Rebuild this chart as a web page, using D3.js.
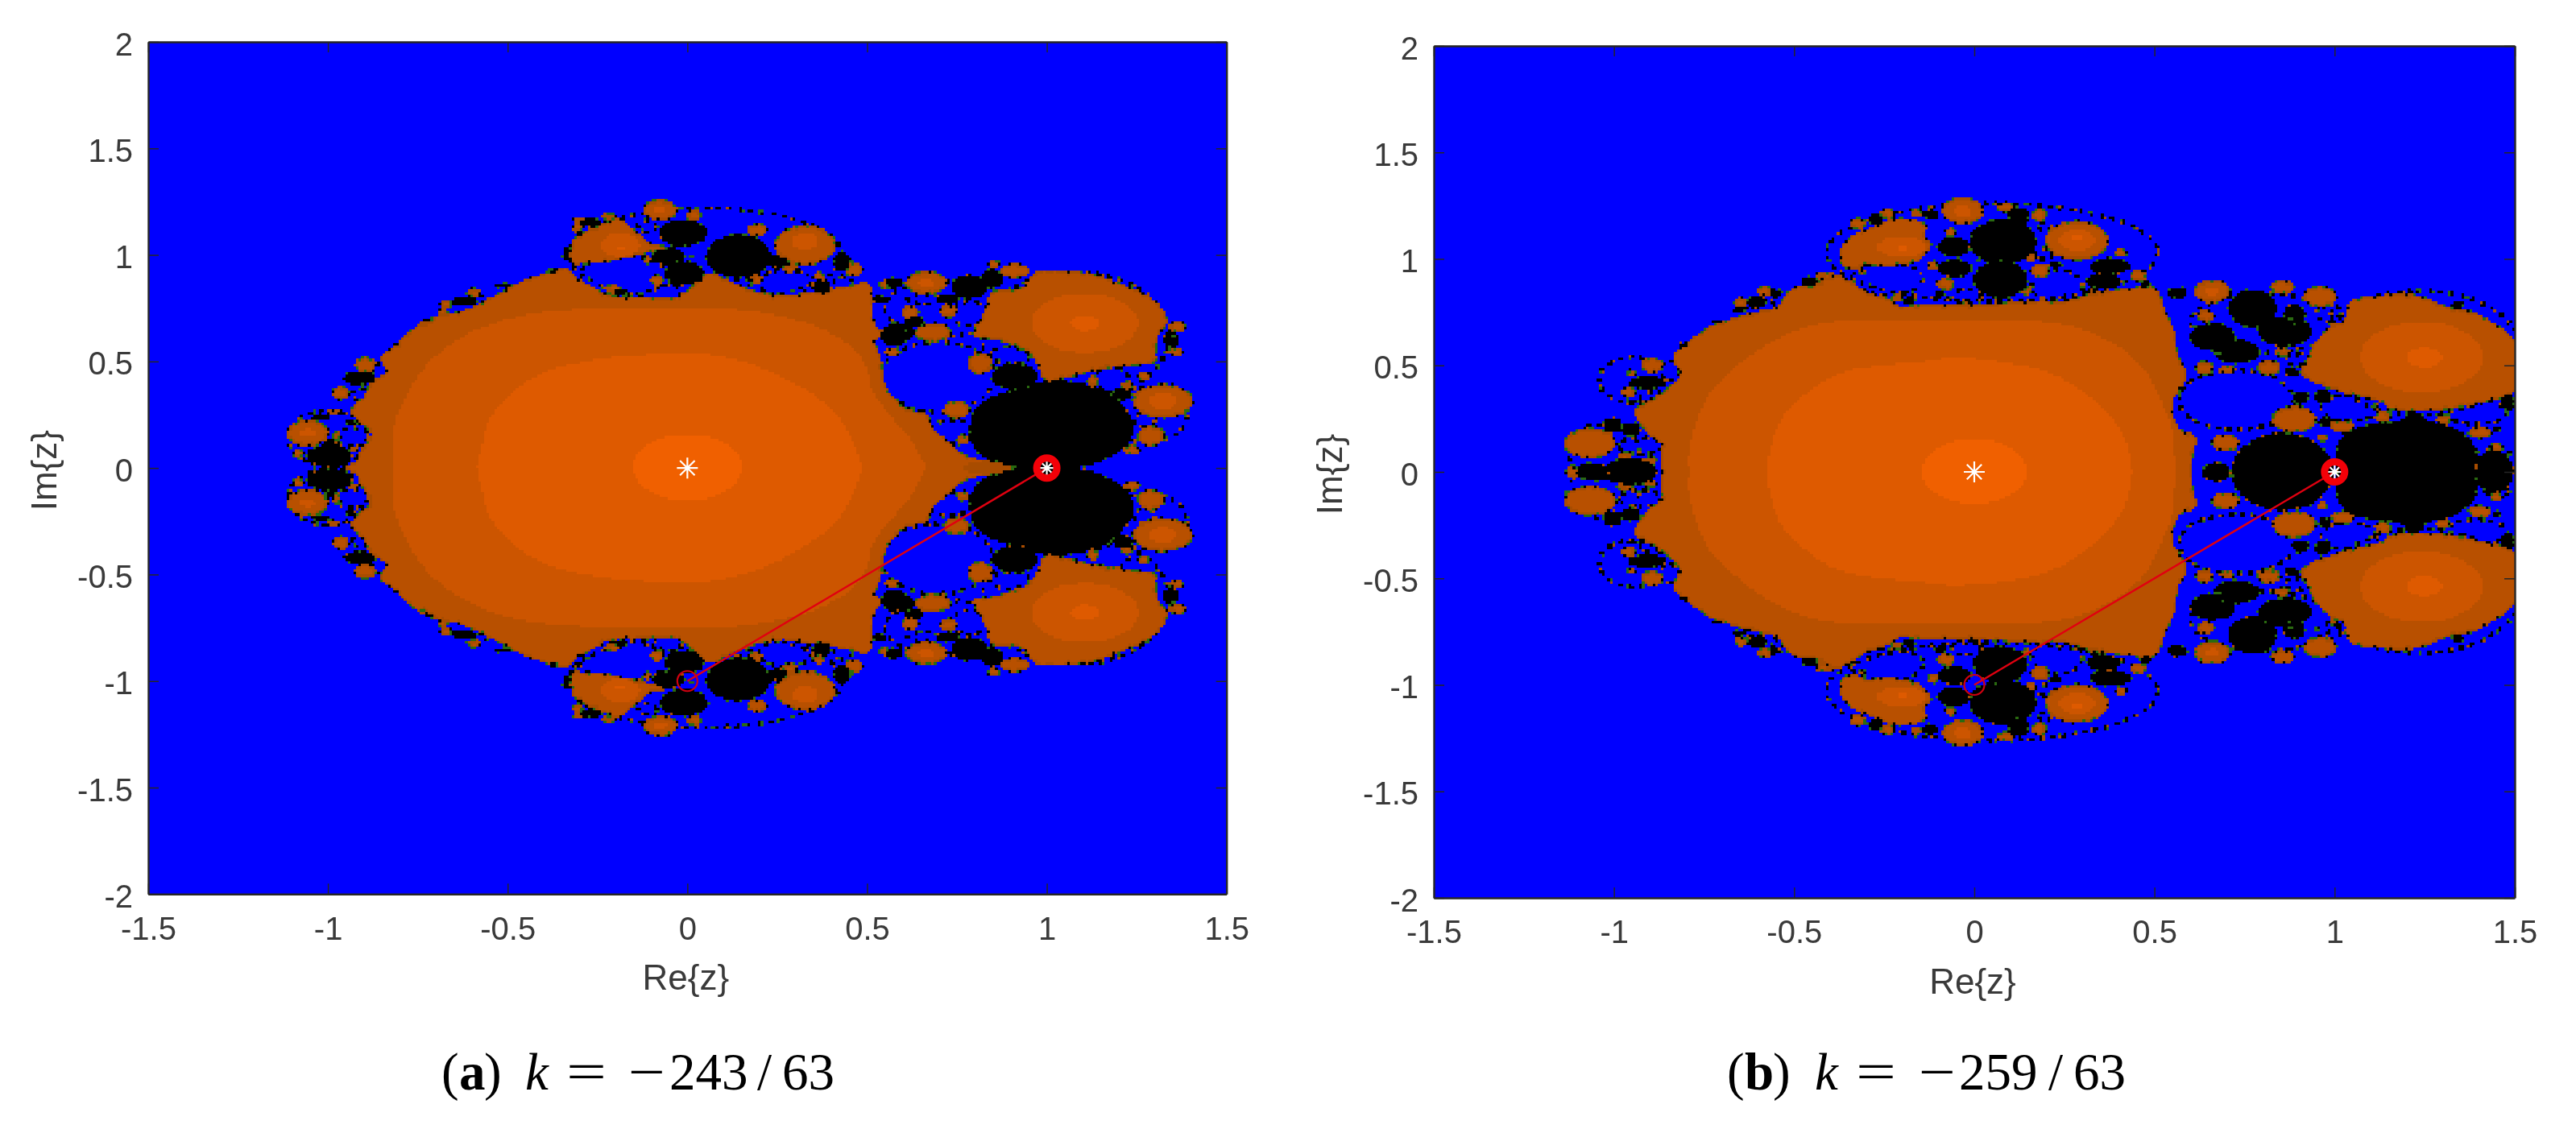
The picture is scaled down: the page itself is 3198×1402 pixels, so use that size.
<!DOCTYPE html>
<html>
<head>
<meta charset="utf-8">
<script src="https://cdnjs.cloudflare.com/ajax/libs/d3/7.8.5/d3.min.js"></script>
<style>
    html, body { margin: 0; padding: 0; background: #fff; }
    #page { position: relative; width: 3198px; height: 1402px; overflow: hidden; }
    canvas { position: absolute; image-rendering: pixelated; }
    svg { position: absolute; left: 0; top: 0; }
    .axis text { font-family: "Liberation Sans", Arial, sans-serif; font-size: 40px; fill: #3a3a3a; }
    .axis path, .axis line { stroke: #262626; }
    .axis path { stroke-width: 2.4; }
    .axis line { stroke-width: 1.5; }
    .axis-label { font-family: "Liberation Sans", Arial, sans-serif; font-size: 44px; fill: #3a3a3a; text-anchor: middle; }
    .caption { font-family: "Liberation Serif", serif; font-size: 65px; fill: #000; }
</style>
</head>
<body>
<div id="page"></div>
<script>
// Axis values
const xTicks = [-1.5, -1, -0.5, 0, 0.5, 1, 1.5];
const yTicks = [-2, -1.5, -1, -0.5, 0, 0.5, 1, 1.5, 2];

// Markers, same on both panels
const stars = [[0, 0], [1, 0]];
const pathLine = [[0, -1], [1, 0]];

// Panel (a): all shapes are the upper half in z coordinates.
// Outlines are [re, im], ellipses are [re, im, rRe, rIm]. The lower half is the mirror image.
const bodyA = [[-0.956,0],[-0.917,0.031],[-0.904,0.087],[-0.878,0.131],[-0.876,0.157],[-0.896,0.201],[-0.934,0.27],[-0.896,0.333],[-0.883,0.396],[-0.837,0.447],[-0.852,0.522],[-0.822,0.56],[-0.777,0.629],[-0.743,0.673],[-0.687,0.711],[-0.628,0.73],[-0.553,0.787],[-0.471,0.862],[-0.403,0.906],[-0.336,0.932],[-0.299,0.875],[-0.254,0.837],[-0.224,0.805],[-0.082,0.793],[-0.045,0.787],[0,0.825],[0.06,0.913],[0.12,0.868],[0.187,0.824],[0.269,0.799],[0.336,0.818],[0.418,0.837],[0.504,0.862],[0.512,0.787],[0.516,0.686],[0.537,0.623],[0.52,0.598],[0.538,0.497],[0.545,0.396],[0.568,0.333],[0.59,0.29],[0.628,0.264],[0.669,0.245],[0.68,0.182],[0.717,0.132],[0.755,0.069],[0.807,0.037],[0.911,0.008],[0.911,0]];
const level2A = [[-0.818,0],[-0.818,0.182],[-0.784,0.333],[-0.732,0.472],[-0.665,0.573],[-0.568,0.661],[-0.441,0.723],[-0.254,0.749],[-0.075,0.749],[0.112,0.749],[0.299,0.698],[0.411,0.623],[0.47,0.547],[0.5,0.459],[0.515,0.358],[0.553,0.27],[0.627,0.119],[0.665,0]];
const level3A = [[-0.586,0],[-0.575,0.08],[-0.553,0.22],[-0.493,0.346],[-0.403,0.447],[-0.254,0.51],[-0.15,0.528],[0,0.541],[0.149,0.503],[0.299,0.396],[0.411,0.257],[0.463,0.119],[0.486,0]];
const coreA = [[0, 0, 0.151, 0.154]];
const tipA = [[0.76,0],[0.8,0.028],[0.86,0.02],[0.911,0.008],[0.911,0]];
const bigLobesA = [
    [[0.796,0.623],[0.818,0.692],[0.835,0.761],[0.848,0.824],[0.926,0.837],[0.956,0.887],[0.967,0.915],[1.076,0.915],[1.136,0.9],[1.21,0.856],[1.262,0.818],[1.315,0.755],[1.333,0.686],[1.307,0.623],[1.3,0.535],[1.3,0.503],[1.225,0.484],[1.143,0.465],[1.068,0.434],[0.994,0.415],[0.979,0.472],[0.953,0.547],[0.911,0.579],[0.852,0.61]],
    [[-0.317,1.064],[-0.299,1.09],[-0.254,1.127],[-0.187,1.162],[-0.138,1.095],[-0.097,1.045],[-0.06,1.036],[-0.131,1.007],[-0.164,0.994],[-0.232,0.969],[-0.299,0.963],[-0.317,0.957]]
];
const blackOutlineA = [[0.919,0],[0.852,0.031],[0.807,0.069],[0.784,0.169],[0.799,0.27],[0.852,0.339],[0.904,0.365],[0.956,0.396],[1.016,0.409],[1.091,0.396],[1.15,0.371],[1.203,0.302],[1.236,0.232],[1.236,0.144],[1.21,0.087],[1.15,0.031],[1.076,0]];
const blobsA = [[0.665,0.869,0.056,0.05],[0.911,0.925,0.041,0.028],[0.852,0.957,0.015,0.018],[0.62,0.73,0.022,0.028],[0.726,0.736,0.022,0.025],[0.683,0.636,0.049,0.038],[0.568,0.541,0.019,0.016],[0.814,0.491,0.031,0.044],[0.749,0.273,0.034,0.035],[1.322,0.314,0.082,0.076],[1.289,0.15,0.036,0.04],[1.236,0.084,0.021,0.019],[1.363,0.661,0.022,0.019],[1.359,0.547,0.019,0.015],[0.766,0.132,0.016,0.019],[1.27,0.434,0.015,0.015],[1.221,0.386,0.015,0.013],[1.128,0.409,0.015,0.019],
    [-0.075,1.211,0.046,0.044],[0.019,1.186,0.021,0.019],[-0.22,1.181,0.019,0.01],[0.194,1.117,0.026,0.025],[0.327,1.045,0.083,0.088],[0.462,0.932,0.024,0.028],[-0.209,0.84,0.021,0.015],[-0.086,0.881,0.016,0.023],[0.194,0.887,0.015,0.019],[0.285,0.938,0.019,0.015],[0.366,0.9,0.016,0.015],[-0.112,0.976,0.01,0.015],[0.549,0.862,0.015,0.015],
    [-1.057,0.163,0.056,0.057],[-1.083,0.068,0.013,0.018],[-0.975,0.15,0.009,0.015],[-0.93,0.087,0.013,0.01],[-0.986,0.26,0.019,0.01],[-0.896,0.484,0.028,0.031],[-0.964,0.352,0.021,0.028],[-0.672,0.768,0.015,0.015],[-0.594,0.824,0.019,0.015],[-0.68,0.73,0.011,0.013],[-0.303,1.165,0.015,0.01],[-0.306,1.127,0.013,0.015],[-0.735,0.678,0.01,0.01]];
const midA = [[1.105,0.68,0.149,0.139],[-0.187,1.045,0.055,0.057],[0.327,1.064,0.037,0.038],[1.322,0.314,0.04,0.036],[-1.057,0.163,0.022,0.02],[0.665,0.869,0.022,0.02],[-0.075,1.211,0.018,0.018]];
const innerA = [[1.105,0.68,0.04,0.038],[-0.187,1.033,0.015,0.012]];
const blackA = [[0.91,0.428,0.064,0.063],[1.21,0.346,0.026,0.03],[0.785,0.85,0.049,0.057],[0.848,0.887,0.03,0.044],[0.725,0.793,0.03,0.022],[0.59,0.636,0.045,0.044],[0.631,0.686,0.026,0.025],[1.345,0.604,0.022,0.038],[0.575,0.869,0.022,0.025],
    [-0.011,1.102,0.067,0.063],[-0.052,0.994,0.045,0.04],[-0.008,0.913,0.056,0.057],[0.142,0.994,0.09,0.103],[0.25,0.969,0.028,0.028],[0.43,0.969,0.024,0.044],[0.373,0.85,0.026,0.035],[-0.187,0.824,0.022,0.013],[-0.269,1.152,0.03,0.019],[0.575,0.623,0.037,0.05],[0.534,0.793,0.019,0.019],
    [-0.997,0.056,0.063,0.053],[-0.992,0.125,0.016,0.019],[-1.02,0.235,0.026,0.013],[-0.934,0.213,0.022,0.01],[-0.911,0.421,0.045,0.031],[-0.62,0.78,0.034,0.019],[-0.512,0.856,0.022,0.013],[-0.717,0.69,0.011,0.01],[-0.81,0.579,0.013,0.008],[-0.336,1.007,0.011,0.032],[-0.374,0.922,0.015,0.008]];
const ringsA = [[-0.179,0.906,0.12,0.094],[-0.052,0.824,0.037,0.035],[0.273,0.869,0.075,0.063],[-0.112,1.133,0.026,0.028],[0.157,0.869,0.022,0.023],[0.433,0.869,0.026,0.028],[0.306,0.976,0.019,0.019],[0.695,0.428,0.157,0.164],[0.896,0.529,0.056,0.038],[1.18,0.415,0.049,0.057],[0.732,0.169,0.056,0.057],[0.657,0.793,0.045,0.023],[0.785,0.724,0.049,0.057],[1.27,0.226,0.03,0.031],[-0.93,0.144,0.049,0.044],[-0.855,0.453,0.021,0.04],[-0.911,0.346,0.022,0.028],[-0.575,0.793,0.019,0.015],[-0.291,1.114,0.022,0.015],
    [0.05,1.0,0.38,0.22],[0.72,0.75,0.17,0.13],[-1.0,0.14,0.11,0.13],[1.08,0.62,0.26,0.3],[1.28,0.25,0.11,0.13]];
const specksA = [[0, 0.998], [1.345, 0.62]];

// Panel (b)
const bodyB = [[-0.865,0],[-0.867,0.073],[-0.863,0.123],[-0.881,0.155],[-0.908,0.186],[-0.926,0.23],[-0.941,0.287],[-0.911,0.319],[-0.874,0.35],[-0.852,0.388],[-0.814,0.457],[-0.833,0.545],[-0.785,0.615],[-0.74,0.671],[-0.673,0.716],[-0.613,0.741],[-0.539,0.779],[-0.509,0.854],[-0.45,0.873],[-0.39,0.911],[-0.371,0.917],[-0.315,0.854],[-0.285,0.829],[-0.233,0.804],[-0.211,0.772],[-0.159,0.778],[-0.025,0.778],[0.065,0.785],[0.177,0.797],[0.259,0.797],[0.303,0.823],[0.363,0.841],[0.437,0.86],[0.501,0.86],[0.527,0.753],[0.557,0.64],[0.561,0.552],[0.587,0.464],[0.564,0.375],[0.546,0.325],[0.568,0.199],[0.613,0.161],[0.605,0.086],[0.601,0]];
const level2B = [[-0.792,0],[-0.792,0.098],[-0.773,0.224],[-0.733,0.376],[-0.673,0.476],[-0.583,0.59],[-0.472,0.678],[-0.375,0.709],[-0.136,0.716],[0.065,0.716],[0.214,0.703],[0.326,0.653],[0.423,0.564],[0.482,0.464],[0.504,0.388],[0.549,0.199],[0.557,0]];
const level3B = [[-0.576,0],[-0.568,0.098],[-0.539,0.237],[-0.479,0.35],[-0.375,0.464],[-0.136,0.52],[-0.062,0.533],[0.065,0.52],[0.214,0.464],[0.303,0.375],[0.378,0.262],[0.423,0.136],[0.438,0]];
const coreB = [[0, 0, 0.145, 0.152]];
const tipB = [];
const bigLobesB = [
    [[0.911,0.464],[0.929,0.539],[0.952,0.615],[0.982,0.665],[1.03,0.715],[1.041,0.791],[1.123,0.822],[1.235,0.822],[1.309,0.772],[1.384,0.747],[1.444,0.69],[1.492,0.627],[1.51,0.5],[1.492,0.375],[1.421,0.338],[1.309,0.3],[1.16,0.3],[1.123,0.338],[1.049,0.369],[0.974,0.407]],
    [[-0.371,1.03],[-0.349,1.094],[-0.285,1.144],[-0.211,1.188],[-0.136,1.156],[-0.14,1.106],[-0.121,1.068],[-0.136,1.03],[-0.159,0.993],[-0.181,0.986],[-0.248,0.968],[-0.293,0.98],[-0.345,0.955],[-0.367,0.98]]
];
const blackOutlineB = [[1.006,0],[1.006,0.12],[1.03,0.18],[1.09,0.22],[1.18,0.24],[1.22,0.285],[1.26,0.24],[1.34,0.2],[1.39,0.12],[1.406,0]];
const blobsB = [[0.661,0.848,0.048,0.05],[0.855,0.867,0.03,0.028],[0.959,0.823,0.045,0.044],[0.642,0.734,0.021,0.025],[0.639,0.489,0.022,0.028],[0.818,0.489,0.03,0.028],[0.702,0.483,0.019,0.013],[0.855,0.564,0.019,0.015],[0.888,0.247,0.06,0.057],[0.698,0.136,0.036,0.035],[1.022,0.212,0.031,0.025],[1.134,0.258,0.021,0.023],[1.302,0.245,0.019,0.019],[1.403,0.184,0.03,0.023],[1.451,0.121,0.015,0.015],[0.967,0.161,0.015,0.013],
    [-0.032,1.226,0.056,0.057],[0.087,1.242,0.021,0.018],[0.18,1.207,0.019,0.025],[0.285,1.087,0.086,0.088],[-0.08,0.882,0.022,0.025],[-0.114,0.97,0.013,0.019],[-0.066,1.125,0.013,0.015],[0.156,1.009,0.015,0.013],[0.183,0.945,0.024,0.028],[0.147,0.848,0.011,0.015],[0.408,1.028,0.016,0.013],[0.456,0.923,0.021,0.023],
    [-0.323,1.166,0.021,0.023],[-0.241,1.213,0.022,0.015],[-0.158,1.213,0.016,0.013],[-0.214,0.816,0.015,0.008],[-0.31,0.94,0.011,0.006],[-0.416,0.923,0.026,0.013],[-0.58,0.848,0.022,0.019],[-0.647,0.797,0.016,0.019],[-0.893,0.5,0.028,0.031],[-0.96,0.375,0.019,0.023],[-0.952,0.464,0.011,0.01],[-1.066,0.135,0.07,0.065],[-0.971,0.073,0.019,0.015],[-0.9,0.054,0.019,0.01],[-1.115,0,0.015,0.02]];
const midB = [[1.242,0.539,0.171,0.167],[-0.203,1.056,0.067,0.05],[0.285,1.087,0.05,0.05],[-0.032,1.226,0.025,0.025],[0.661,0.848,0.02,0.02]];
const innerB = [[1.25,0.537,0.048,0.048],[-0.2,1.047,0.016,0.013],[0.285,1.1,0.02,0.02]];
const blackB = [[0.855,0,0.14,0.18],[0.672,0,0.037,0.045],[1.443,0,0.052,0.1],[0.773,0.766,0.067,0.088],[0.862,0.659,0.075,0.069],[0.888,0.741,0.03,0.044],[0.661,0.634,0.063,0.063],[0.728,0.564,0.063,0.057],[0.907,0.35,0.022,0.031],[0.967,0.356,0.022,0.038],[0.974,0.237,0.019,0.023],[1.343,0.785,0.016,0.019],[1.481,0.325,0.019,0.038],[1.451,0.199,0.011,0.015],[0.881,0.47,0.022,0.019],
    [0.08,1.081,0.093,0.107],[0.072,0.904,0.075,0.088],[-0.058,1.056,0.045,0.048],[-0.054,0.955,0.048,0.044],[0.123,1.2,0.028,0.04],[-0.121,1.209,0.022,0.023],[0.378,0.967,0.056,0.038],[0.359,0.898,0.048,0.035],[0.475,0.882,0.015,0.015],[0.225,0.974,0.019,0.015],[-0.095,0.835,0.016,0.015],[0.564,0.841,0.026,0.028],
    [-0.274,1.188,0.019,0.028],[-0.181,0.804,0.016,0.019],[-0.457,0.892,0.022,0.023],[-0.553,0.841,0.019,0.015],[-0.602,0.797,0.026,0.028],[-0.654,0.76,0.013,0.015],[-0.71,0.703,0.019,0.01],[-0.807,0.596,0.015,0.01],[-0.908,0.42,0.052,0.031],[-0.949,0.331,0.016,0.013],[-1.004,0.218,0.026,0.038],[-0.952,0.199,0.026,0.031],[-0.955,0,0.075,0.06],[-1.06,0,0.045,0.04]];
const ringsB = [[0.728,0.338,0.16,0.139],[1.041,0.3,0.078,0.063],[1.395,0.281,0.086,0.057],[0.985,0.747,0.034,0.038],[0.9,0.526,0.037,0.028],[1.45,0.09,0.034,0.025],[-0.021,0.823,0.041,0.035],[0.229,0.873,0.071,0.076],[0.195,1.024,0.026,0.025],[0.195,1.15,0.019,0.019],[0.33,0.844,0.015,0.015],[-0.241,0.905,0.1,0.076],[-0.412,0.898,0.021,0.013],[-0.613,0.76,0.026,0.019],[-0.546,0.804,0.019,0.019],[-0.844,0.476,0.026,0.044],[-0.9,0.35,0.026,0.025],[-0.926,0.123,0.06,0.038],
    [0.05,1.03,0.46,0.23],[0.8,0.7,0.2,0.14],[-0.95,0.43,0.09,0.11],[-1.03,0.1,0.1,0.12],[1.24,0.56,0.28,0.29]];
const specksB = [[0, 0.999], [0.868, 0.73], [0.67, 0.568]];

// Colours of the map
const BLUE = "#0000ff", BLACK = "#000000", RIM = "#a84c00", LEVEL1 = "#b85000",
    LEVEL2 = "#cc5500", LEVEL3 = "#de5a00", LEVEL4 = "#f06000", SPECK = "#2a6a10";
const palette = [BLUE, BLACK, RIM, LEVEL1, LEVEL2, LEVEL3, LEVEL4, SPECK].map(c => {
    const r = d3.rgb(c);
    return [r.r, r.g, r.b];
});

// Map pixels, the original is a coarse raster
const mapW = 405, mapH = 320;

function drawMap(data, box) {
    const canvas = d3.select("#page").append("canvas")
        .attr("width", mapW).attr("height", mapH)
        .style("left", `${box.left}px`).style("top", `${box.top}px`)
        .style("width", `${box.right - box.left}px`).style("height", `${box.bottom - box.top}px`);
    const ctx = canvas.node().getContext("2d");

    const x = d3.scaleLinear().domain([-1.5, 1.5]).range([0, mapW]);
    const y = d3.scaleLinear().domain([-2, 2]).range([mapH, 0]);

    ctx.fillStyle = BLUE;
    ctx.fillRect(0, 0, mapW, mapH);

    // every shape is drawn twice, once flipped over the real axis
    [1, -1].forEach(sign => {
        const open = d3.line().x(d => x(d[0])).y(d => y(sign * d[1]))
            .curve(d3.curveCatmullRom.alpha(0.5)).context(ctx);
        const closed = d3.line().x(d => x(d[0])).y(d => y(sign * d[1]))
            .curve(d3.curveCatmullRomClosed.alpha(0.5)).context(ctx);

        function ellipses(list, fill, stroke, dash, width) {
            list.forEach(e => {
                ctx.beginPath();
                ctx.ellipse(x(e[0]), y(sign * e[1]), Math.abs(x(e[2]) - x(0)), Math.abs(y(e[3]) - y(0)), 0, 0, 2 * Math.PI);
                if (fill) { ctx.fillStyle = fill; ctx.fill(); }
                if (stroke) {
                    ctx.strokeStyle = stroke;
                    ctx.setLineDash(dash);
                    ctx.lineWidth = width || 1;
                    ctx.stroke();
                    ctx.setLineDash([]);
                }
            });
        }

        function outline(points, gen, fill, stroke, dash) {
            ctx.beginPath();
            gen(points);
            ctx.fillStyle = fill;
            ctx.fill();
            if (stroke) {
                ctx.strokeStyle = stroke;
                ctx.lineWidth = 1;
                ctx.setLineDash(dash);
                ctx.stroke();
                ctx.setLineDash([]);
            }
        }

        // speckled rims of the blue discs
        ellipses(data.rings, null, BLACK, [2, 2], 1.4);
        ellipses(data.rings, null, RIM, [1, 5], 1.4);

        // main body and its colour levels
        outline(data.body, open, LEVEL1, RIM, []);
        outline(data.body, open, LEVEL1, BLACK, [1, 9]);
        outline(data.level2, open, LEVEL2);
        outline(data.level3, open, LEVEL3);
        ellipses(data.core, LEVEL4);
        if (data.tip.length) outline(data.tip, open, RIM);

        // orange satellites
        data.bigLobes.forEach(p => outline(p, closed, LEVEL1, RIM, []));
        data.bigLobes.forEach(p => outline(p, closed, LEVEL1, BLACK, [1, 5]));
        ellipses(data.blobs, LEVEL1, RIM, []);
        ellipses(data.blobs, null, BLACK, [1, 3]);
        ellipses(data.mid, LEVEL2);
        ellipses(data.inner, LEVEL3);

        // black regions
        outline(data.blackOutline, open, BLACK, RIM, [1, 7]);
        ellipses(data.black, BLACK, RIM, [1, 4]);

        data.specks.forEach(s => {
            ctx.fillStyle = SPECK;
            ctx.fillRect(Math.round(x(s[0])), Math.round(y(sign * s[1])), 2, 1);
        });
    });

    // snap the smoothed edges back to the flat map colours
    const img = ctx.getImageData(0, 0, mapW, mapH);
    const px = img.data;
    for (let i = 0; i < px.length; i += 4) {
        let best = palette[0], bestDist = Infinity;
        palette.forEach(c => {
            const dist = (px[i] - c[0]) ** 2 + (px[i + 1] - c[1]) ** 2 + (px[i + 2] - c[2]) ** 2;
            if (dist < bestDist) { bestDist = dist; best = c; }
        });
        px[i] = best[0]; px[i + 1] = best[1]; px[i + 2] = best[2]; px[i + 3] = 255;
    }
    ctx.putImageData(img, 0, 0);
}

function drawAxes(svg, box) {
    const x = d3.scaleLinear().domain([-1.5, 1.5]).range([box.left, box.right]);
    const y = d3.scaleLinear().domain([-2, 2]).range([box.bottom, box.top]);
    const tick = 13;

    // markers on top of the map
    const line = d3.line().x(d => x(d[0])).y(d => y(d[1]));
    svg.append("path").attr("d", line(pathLine))
        .attr("fill", "none").attr("stroke", "#e00010").attr("stroke-width", 2.4);
    svg.append("circle").attr("cx", x(pathLine[0][0])).attr("cy", y(pathLine[0][1])).attr("r", 12.5)
        .attr("fill", "none").attr("stroke", "#d00010").attr("stroke-width", 2.2);
    svg.append("circle").attr("cx", x(pathLine[1][0])).attr("cy", y(pathLine[1][1])).attr("r", 12.5)
        .attr("fill", "none").attr("stroke", "#f40008").attr("stroke-width", 9);
    stars.forEach((s, i) => {
        const r = i === 0 ? 13 : 8;
        const star = d3.path();
        [0, 45, 90, 135].forEach(a => {
            const dx = r * Math.cos(a * Math.PI / 180), dy = r * Math.sin(a * Math.PI / 180);
            star.moveTo(x(s[0]) - dx, y(s[1]) - dy);
            star.lineTo(x(s[0]) + dx, y(s[1]) + dy);
        });
        svg.append("path").attr("d", star.toString())
            .attr("stroke", "#fff").attr("stroke-width", 2.2).attr("fill", "none");
    });

    // box with inward ticks on all four sides
    svg.append("g").attr("class", "axis").attr("transform", `translate(0,${box.bottom})`)
        .call(d3.axisBottom(x).tickValues(xTicks).tickFormat(d => String(d)).tickSizeInner(-tick).tickSizeOuter(0).tickPadding(28));
    svg.append("g").attr("class", "axis").attr("transform", `translate(0,${box.top})`)
        .call(d3.axisTop(x).tickValues(xTicks).tickFormat("").tickSizeInner(-tick).tickSizeOuter(0));
    svg.append("g").attr("class", "axis").attr("transform", `translate(${box.left},0)`)
        .call(d3.axisLeft(y).tickValues(yTicks).tickFormat(d => String(d)).tickSizeInner(-tick).tickSizeOuter(0).tickPadding(19))
        .selectAll("text").attr("dy", "0.4em");
    svg.append("g").attr("class", "axis").attr("transform", `translate(${box.right},0)`)
        .call(d3.axisRight(y).tickValues(yTicks).tickFormat("").tickSizeInner(-tick).tickSizeOuter(0));

    svg.append("text").attr("class", "axis-label")
        .attr("x", (box.left + box.right) / 2 - 2).attr("y", box.bottom + 119).text("Re{z}");
    svg.append("text").attr("class", "axis-label")
        .attr("transform", `translate(${box.left - 114},${(box.top + box.bottom) / 2 + 3}) rotate(-90)`)
        .text("Im{z}");
}

function drawCaption(svg, parts) {
    parts.forEach(p => {
        const t = svg.append("text").attr("class", "caption")
            .attr("x", p.x).attr("y", 1353)
            .attr("font-weight", p.bold ? "bold" : null)
            .attr("font-style", p.italic ? "italic" : null)
            .text(p.t);
        if (p.len) t.attr("textLength", p.len).attr("lengthAdjust", "spacingAndGlyphs");
    });
}

const panelA = { left: 184, right: 1522.7, top: 52, bottom: 1110.3 };
const panelB = { left: 1780, right: 3122, top: 57, bottom: 1115 };

drawMap({ body: bodyA, level2: level2A, level3: level3A, core: coreA, tip: tipA, bigLobes: bigLobesA, blackOutline: blackOutlineA,
    blobs: blobsA, mid: midA, inner: innerA, black: blackA, rings: ringsA, specks: specksA }, panelA);
drawMap({ body: bodyB, level2: level2B, level3: level3B, core: coreB, tip: tipB, bigLobes: bigLobesB, blackOutline: blackOutlineB,
    blobs: blobsB, mid: midB, inner: innerB, black: blackB, rings: ringsB, specks: specksB }, panelB);

const svg = d3.select("#page").append("svg").attr("width", 3198).attr("height", 1402);
drawAxes(svg, panelA);
drawAxes(svg, panelB);

drawCaption(svg, [
    { t: "(", x: 548 }, { t: "a", x: 570, bold: true }, { t: ")", x: 601 }, { t: "k", x: 652, italic: true },
    { t: "=", x: 703, len: 50 }, { t: "\u2212", x: 780, len: 46 }, { t: "243", x: 831 }, { t: "/", x: 940 }, { t: "63", x: 971 }
]);
drawCaption(svg, [
    { t: "(", x: 2144 }, { t: "b", x: 2166, bold: true }, { t: ")", x: 2201 }, { t: "k", x: 2253, italic: true },
    { t: "=", x: 2304, len: 50 }, { t: "\u2212", x: 2382, len: 46 }, { t: "259", x: 2432 }, { t: "/", x: 2543 }, { t: "63", x: 2574 }
]);
</script>
</body>
</html>
